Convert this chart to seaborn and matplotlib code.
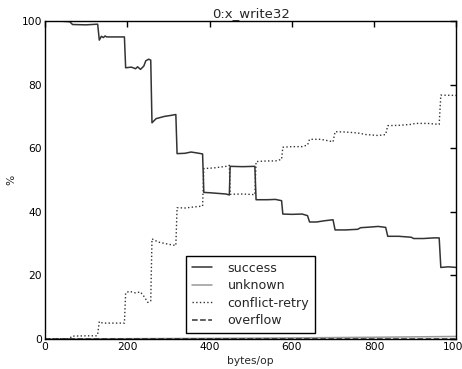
import matplotlib
matplotlib.use("Agg")
import matplotlib.pyplot as plt
import seaborn as sns

# Outcome percentages per transaction size (bytes/op)
success_x = [0, 30, 60, 67, 100, 126, 128, 132, 137, 142, 146, 150, 170, 193, 196,
             210, 220, 225, 232, 240, 245, 252, 257, 260, 270, 290, 305, 318, 321,
             340, 355, 370, 383, 386, 400, 420, 440, 448, 450, 480, 510, 513, 540,
             560, 575, 578, 600, 625, 638, 643, 660, 680, 700, 705, 730, 760, 767,
             790, 810, 828, 833, 860, 890, 896, 920, 945, 958, 962, 980, 1000]
success_y = [99.9, 100.0, 99.8, 98.9, 98.8, 99.0, 99.0, 94.0, 95.2, 94.8, 95.3, 95.0,
             95.0, 95.0, 85.3, 85.5, 85.0, 85.6, 84.8, 85.8, 87.5, 88.0, 87.7, 68.0,
             69.3, 70.0, 70.3, 70.6, 58.3, 58.4, 58.8, 58.5, 58.2, 46.1, 46.0, 45.8,
             45.6, 45.3, 54.3, 54.2, 54.3, 43.8, 43.8, 43.9, 43.5, 39.3, 39.2, 39.3,
             38.8, 36.8, 36.8, 37.2, 37.5, 34.3, 34.3, 34.5, 35.0, 35.2, 35.4, 35.1,
             32.3, 32.3, 32.0, 31.6, 31.6, 31.8, 31.8, 22.5, 22.7, 22.5]

unknown_x = [0, 200, 400, 600, 800, 1000]
unknown_y = [0.0, 0.1, 0.2, 0.35, 0.55, 0.8]

conflict_x = [0, 60, 65, 100, 126, 128, 132, 140, 160, 193, 196, 205, 220, 232, 240,
              250, 257, 260, 275, 300, 318, 321, 340, 360, 383, 386, 410, 440, 448,
              450, 480, 510, 513, 540, 560, 575, 578, 600, 625, 638, 643, 670, 690,
              700, 705, 730, 760, 780, 810, 828, 833, 860, 890, 900, 930, 958, 962,
              1000]
conflict_y = [0.0, 0.1, 0.9, 1.0, 1.0, 1.5, 5.5, 5.0, 5.0, 5.0, 14.5, 15.0, 14.5, 14.8,
              13.5, 11.5, 12.0, 31.5, 30.5, 29.8, 29.4, 41.3, 41.2, 41.5, 41.8, 53.6,
              53.8, 54.3, 54.6, 45.5, 45.6, 45.4, 55.8, 56.0, 56.0, 56.5, 60.3, 60.5,
              60.5, 61.0, 62.8, 62.8, 62.3, 62.0, 65.2, 65.1, 64.8, 64.3, 64.0, 64.3,
              67.1, 67.2, 67.5, 67.8, 67.8, 67.5, 76.7, 76.6]

overflow_x = [0, 1000]
overflow_y = [0.0, 0.0]

sns.set_style("white")
plt.rcParams.update({
    "font.family": ["DejaVu Sans"],
    "xtick.direction": "in",
    "ytick.direction": "in",
    "xtick.top": True,
    "ytick.right": True,
    "xtick.major.size": 4,
    "ytick.major.size": 4,
    "axes.edgecolor": "black",
    "axes.linewidth": 1.0,
})

fig = plt.figure(figsize=(4.62, 3.69), dpi=100)
ax = fig.add_axes([0.0974, 0.0813, 0.8906, 0.8617])

sns.lineplot(x=success_x, y=success_y, ax=ax, color="#333333", lw=1.1,
             label="success", estimator=None, sort=False)
sns.lineplot(x=unknown_x, y=unknown_y, ax=ax, color="#999999", lw=1.1,
             label="unknown", estimator=None, sort=False)
sns.lineplot(x=conflict_x, y=conflict_y, ax=ax, color="#333333", lw=1.0,
             linestyle=":", label="conflict-retry", estimator=None, sort=False)
sns.lineplot(x=overflow_x, y=overflow_y, ax=ax, color="#333333", lw=1.1,
             linestyle="--", label="overflow", estimator=None, sort=False)

ax.set_xlim(0, 1000)
ax.set_ylim(0, 100)
ax.set_xticks([0, 200, 400, 600, 800, 1000])
ax.set_yticks([0, 20, 40, 60, 80, 100])
ax.tick_params(labelsize=7.7, colors="black", width=1, pad=2)
ax.set_xlabel("bytes/op", fontsize=7.7, labelpad=3)
ax.set_ylabel("%", fontsize=7.7, labelpad=4)
ax.set_title("0:x_write32", fontsize=9.5, pad=3)

leg = ax.legend(loc="lower center", fontsize=9.1, frameon=True, fancybox=False,
                edgecolor="black", framealpha=1, handlelength=1.6,
                handletextpad=1.2, labelspacing=0.35, borderpad=0.45)
leg.get_frame().set_linewidth(1.0)

fig.savefig("out.png", dpi=100)
